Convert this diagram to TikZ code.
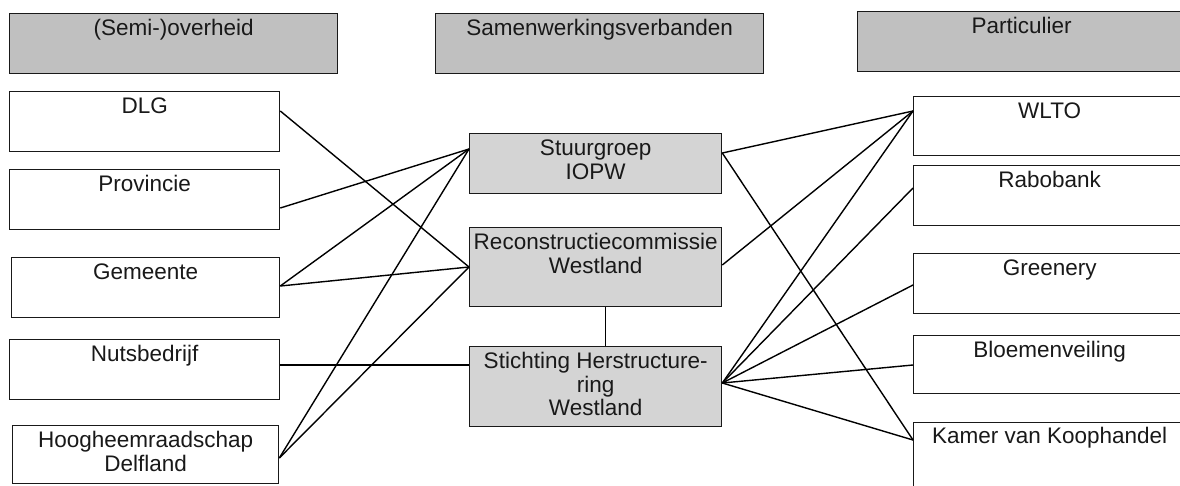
\documentclass[tikz,border=0pt]{standalone}
\usepackage{fontspec}
\setmainfont{Liberation Sans}
\begin{document}
\begin{tikzpicture}[x=1pt,y=-1pt,
  box/.style={draw=black!90, line width=1.3pt, inner sep=0pt, anchor=north west, fill=white},
  head/.style={box, fill=headgray},
  mid/.style={box, fill=midgray},
  txt/.style={anchor=north, inner sep=0pt, align=center, text=black!90,
     font=\fontsize{22.5}{23.5}\selectfont, yshift=-6pt},
  link/.style={line width=1.4pt, black}
]
\definecolor{headgray}{RGB}{192,192,192}
\definecolor{midgray}{RGB}{212,212,212}
\useasboundingbox (0,0) rectangle (1180,485);
\fill[white] (0,0) rectangle (1180,485);

% headers
\node[head, minimum width=328pt, minimum height=60pt] (h1) at (9,13) {};
\node[txt] (h1t) at (h1.north) {\strut(Semi-)overheid};
\node[head, minimum width=328pt, minimum height=60pt] (h2) at (435,13) {};
\node[txt] (h2t) at (h2.north) {\strut Samenwerkingsverbanden};
\node[head, minimum width=328pt, minimum height=60pt] (h3) at (857,11) {};
\node[txt] (h3t) at (h3.north) {\strut Particulier};

% left column
\node[box, minimum width=270pt, minimum height=60pt] (dlg) at (9,91) {};
\node[txt] (dlgt) at (dlg.north) {\strut DLG};
\node[box, minimum width=270pt, minimum height=60pt] (prov) at (9,169) {};
\node[txt] (provt) at (prov.north) {\strut Provincie};
\node[box, minimum width=268pt, minimum height=60pt] (gem) at (11,257) {};
\node[txt] (gemt) at (gem.north) {\strut Gemeente};
\node[box, minimum width=270pt, minimum height=60pt] (nuts) at (9,339) {};
\node[txt] (nutst) at (nuts.north) {\strut Nutsbedrijf};
\node[box, minimum width=266pt, minimum height=58pt] (hoog) at (12,425) {};
\node[txt] (hoogt) at (hoog.north) {\strut Hoogheemraadschap\\Delfland};

% middle column
\node[mid, minimum width=252pt, minimum height=60pt] (stuur) at (469,133) {};
\node[txt] (stuurt) at (stuur.north) {\strut Stuurgroep\\IOPW};
\node[mid, minimum width=252pt, minimum height=79pt] (recon) at (469,227) {};
\node[txt] (recont) at (recon.north) {\strut Reconstructiecommissie\\Westland};
\node[mid, minimum width=252pt, minimum height=80pt] (stich) at (469,346) {};
\node[txt] (sticht) at (stich.north) {\strut Stichting Herstructure-\\ring\\Westland};

% right column
\node[box, minimum width=272pt, minimum height=59pt] (wlto) at (913,96) {};
\node[txt] (wltot) at (wlto.north) {\strut WLTO};
\node[box, minimum width=272pt, minimum height=60pt] (rabo) at (913,165) {};
\node[txt] (rabot) at (rabo.north) {\strut Rabobank};
\node[box, minimum width=272pt, minimum height=60pt] (green) at (913,253) {};
\node[txt] (greent) at (green.north) {\strut Greenery};
\node[box, minimum width=272pt, minimum height=58pt] (bloem) at (913,335) {};
\node[txt] (bloemt) at (bloem.north) {\strut Bloemenveiling};
\node[box, minimum width=272pt, minimum height=80pt] (kamer) at (913,422) {};
\node[txt, yshift=1.5pt] (kamert) at (kamer.north) {\strut Kamer van Koophandel};

% connectors left
\draw[link] ([yshift=-20pt]dlg.north east) -- ([yshift=-40pt]recon.north west);
\draw[link] ([yshift=-39pt]prov.north east) -- ([yshift=-16pt]stuur.north west);
\draw[link] ([yshift=-29pt]gem.north east) -- ([yshift=-16pt]stuur.north west);
\draw[link] ([yshift=-29pt]gem.north east) -- ([yshift=-40pt]recon.north west);
\draw[link] ([yshift=-26pt]nuts.north east) -- ([yshift=-19pt]stich.north west);
\draw[link] ([yshift=-33pt]hoog.north east) -- ([yshift=-16pt]stuur.north west);
\draw[link] ([yshift=-33pt]hoog.north east) -- ([yshift=-40pt]recon.north west);

% middle vertical
\draw[link] ([xshift=10pt]recon.south) -- ([xshift=10pt]stich.north);

% connectors right
\draw[link] ([yshift=-20pt]stuur.north east) -- ([yshift=-15pt]wlto.north west);
\draw[link] ([yshift=-20pt]stuur.north east) -- ([yshift=-18pt]kamer.north west);
\draw[link] ([yshift=-38pt]recon.north east) -- ([yshift=-15pt]wlto.north west);
\draw[link] ([yshift=-37pt]stich.north east) -- ([yshift=-15pt]wlto.north west);
\draw[link] ([yshift=-37pt]stich.north east) -- ([yshift=-23pt]rabo.north west);
\draw[link] ([yshift=-37pt]stich.north east) -- ([yshift=-32pt]green.north west);
\draw[link] ([yshift=-37pt]stich.north east) -- ([yshift=-30pt]bloem.north west);
\draw[link] ([yshift=-37pt]stich.north east) -- ([yshift=-18pt]kamer.north west);
\end{tikzpicture}
\end{document}
